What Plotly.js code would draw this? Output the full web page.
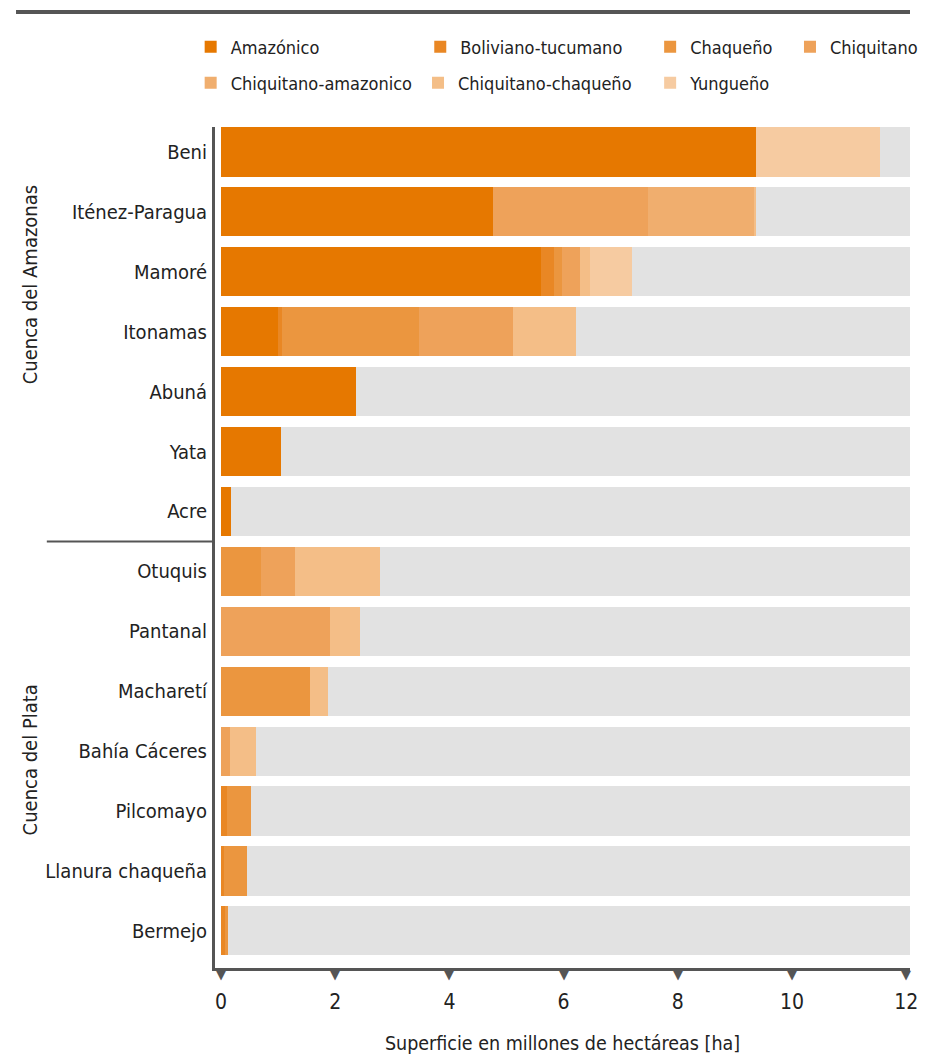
<!DOCTYPE html>
<html>
<head>
<meta charset="utf-8">
<script src="https://cdn.plot.ly/plotly-3.0.1.min.js"></script>
<style>html,body{margin:0;padding:0;background:#fff;overflow:hidden;}#chart{width:936px;height:1064px;}</style>
</head>
<body>
<div id="chart"></div>
<script>
// Categories (top to bottom)
const cuencas = ["Beni","Iténez-Paragua","Mamoré","Itonamas","Abuná","Yata","Acre",
  "Otuquis","Pantanal","Macharetí","Bahía Cáceres","Pilcomayo","Llanura chaqueña","Bermejo"];

// Series values (millions of ha)
const amazonico          = [9.37, 4.77, 5.60, 1.00, 2.36, 1.05, 0.17, 0, 0, 0, 0, 0, 0, 0];
const bolivianoTucumano  = [0, 0, 0.23, 0.07, 0, 0, 0, 0, 0, 0, 0, 0.11, 0.06, 0.07];
const chaqueno           = [0, 0, 0.14, 2.40, 0, 0, 0, 0.70, 0, 1.56, 0, 0.42, 0.39, 0.05];
const chiquitano         = [0, 2.70, 0.32, 1.65, 0, 0, 0, 0.60, 1.91, 0, 0.15, 0, 0, 0];
const chiquitanoAmazonico= [0, 1.86, 0, 0, 0, 0, 0, 0, 0, 0, 0, 0, 0, 0];
const chiquitanoChaqueno = [0, 0.04, 0.17, 1.10, 0, 0, 0, 1.49, 0.53, 0.32, 0.46, 0, 0, 0];
const yungueno           = [2.17, 0, 0.74, 0, 0, 0, 0, 0, 0, 0, 0, 0, 0, 0];

const seriesNames = ["Amazónico","Boliviano-tucumano","Chaqueño","Chiquitano",
  "Chiquitano-amazonico","Chiquitano-chaqueño","Yungueño"];
const seriesValues = [amazonico, bolivianoTucumano, chaqueno, chiquitano,
  chiquitanoAmazonico, chiquitanoChaqueno, yungueno];
const seriesColors = ["#E67800","#E98724","#EB963F","#EEA25A","#F0AE6E","#F4BE87","#F6CBA1"];

const tickValues = [0,2,4,6,8,10,12];
const groupLabels = ["Cuenca del Amazonas","Cuenca del Plata"];

const XMIN = -0.105, XMAX = 12.065;
const FONT = "'DejaVu Sans Condensed','Liberation Sans Narrow',sans-serif";
const TXT = "#222";

// legend placement (container coords)
const legendPos = [
  {x:0.2037, y:0.9558},{x:0.4490, y:0.9558},{x:0.6946, y:0.9558},{x:0.8440, y:0.9558},
  {x:0.2037, y:0.9220},{x:0.4466, y:0.9220},{x:0.6946, y:0.9220}
];

const traces = [];
seriesNames.forEach((n,i)=>{
  traces.push({
    type:"bar", orientation:"h", name:n, y:cuencas, x:seriesValues[i],
    marker:{color:seriesColors[i], line:{width:0}},
    legend: i===0 ? "legend" : "legend"+(i+1),
    hoverinfo:"name+x"
  });
});
// grey remainder
const remainder = cuencas.map((c,j)=>{
  let s=0; seriesValues.forEach(v=>{s+=v[j];}); return XMAX - s;
});
traces.push({type:"bar", orientation:"h", name:"resto", y:cuencas, x:remainder,
  marker:{color:"#E2E2E2", line:{width:0}}, showlegend:false, hoverinfo:"skip"});

const annotations = [
  {text:groupLabels[0], xref:"paper", yref:"paper", x:-0.266, y:0.812, textangle:-90,
    showarrow:false, font:{size:20, color:TXT}, xanchor:"center", yanchor:"middle"},
  {text:groupLabels[1], xref:"paper", yref:"paper", x:-0.266, y:0.247, textangle:-90,
    showarrow:false, font:{size:20, color:TXT}, xanchor:"center", yanchor:"middle"}
];
// triangle tick markers
tickValues.forEach(v=>{
  annotations.push({text:"▼", xref:"x", yref:"paper", x:v, y:0.004, xanchor:"center",
    yanchor:"top", showarrow:false, font:{size:13, color:"#555", family:"DejaVu Sans"}});
});

const layout = {
  width:936, height:1064,
  margin:{l:215, r:26, t:127, b:96},
  paper_bgcolor:"#fff", plot_bgcolor:"#fff",
  barmode:"stack", bargap:0.18,
  font:{family:FONT, size:20, color:TXT},
  showlegend:true,
  xaxis:{range:[XMIN,XMAX], tickvals:tickValues, ticktext:tickValues.map(String),
    showgrid:false, zeroline:false, showline:true, linecolor:"#555", linewidth:3,
    ticks:"", ticklabelstandoff:13, tickfont:{size:21, color:TXT},
    title:{text:"Superficie en millones de hectáreas [ha]", font:{size:19.5, color:TXT}, standoff:24},
    automargin:false, fixedrange:true},
  yaxis:{type:"category", categoryorder:"array", categoryarray:cuencas,
    range:[13.62,-0.417], showgrid:false, zeroline:false, showline:true,
    linecolor:"#555", linewidth:3, ticks:"", ticklabelstandoff:1,
    tickfont:{size:20, color:TXT}, automargin:false, fixedrange:true},
  shapes:[
    {type:"line", xref:"paper", yref:"paper", x0:-0.2863, x1:1, y0:1.1367, y1:1.1367,
      line:{color:"#555", width:4}},
    {type:"line", xref:"paper", yref:"y", x0:-0.242, x1:0, y0:6.5, y1:6.5,
      line:{color:"#555", width:2}}
  ],
  annotations:annotations
};
seriesNames.forEach((n,i)=>{
  const key = i===0 ? "legend" : "legend"+(i+1);
  layout[key] = {x:legendPos[i].x, y:legendPos[i].y, xref:"container", yref:"container",
    xanchor:"left", yanchor:"middle",
    orientation:"h", bgcolor:"rgba(0,0,0,0)", borderwidth:0, itemclick:false, itemdoubleclick:false,
    font:{size:18, color:TXT, family:FONT}, itemwidth:30, tracegroupgap:0};
});

Plotly.newPlot("chart", traces, layout, {displayModeBar:false, staticPlot:true});
</script>
</body>
</html>
